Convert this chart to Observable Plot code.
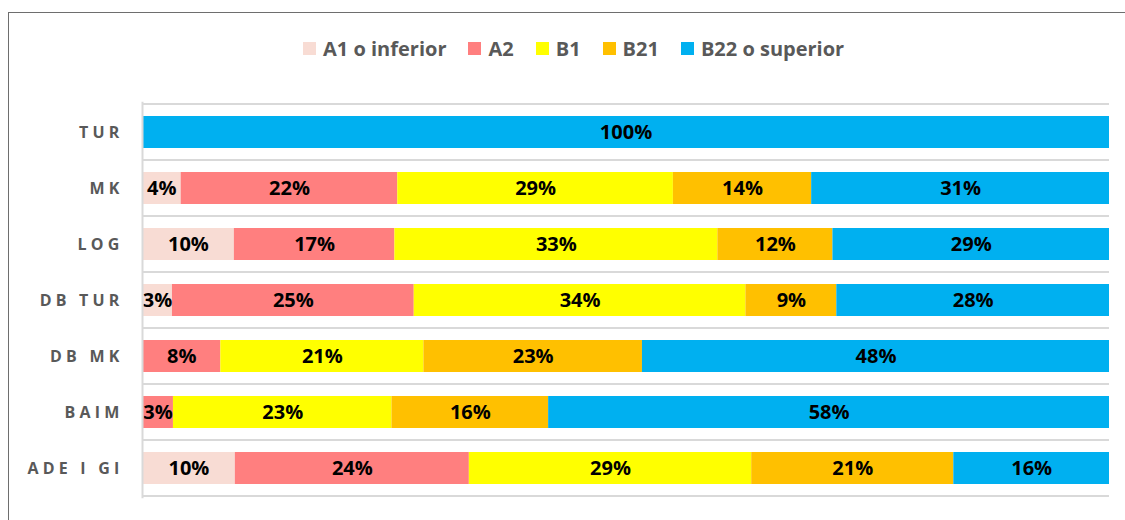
<!DOCTYPE html>
<html>
<head>
<meta charset="utf-8">
<script src="https://cdn.jsdelivr.net/npm/d3@7"></script>
<script src="https://cdn.jsdelivr.net/npm/@observablehq/plot@0.6"></script>
<style>
  html, body { margin: 0; padding: 0; background: #fff; width: 1125px; height: 520px; overflow: hidden; }
  #page { position: relative; width: 1125px; height: 520px; }
  #frame { position: absolute; left: 8px; top: 12px; width: 1200px; height: 600px;
           border-left: 1.5px solid #6e6e6e; border-top: 1.5px solid #6e6e6e; }
  #legend { position: absolute; left: 0; top: 0; width: 1125px; height: 80px;
            font-family: "Open Sans", sans-serif; font-weight: 700; font-size: 20px; color: #595959; }
  #legend .items { position: absolute; left: 303px; top: 35px; display: flex; align-items: center; white-space: nowrap; }
  #legend .item { display: flex; align-items: center; margin-right: 22px; }
  #legend .sw { width: 13px; height: 13px; margin-right: 7px; }
  #chart { position: absolute; left: 0; top: 80px; }
  #chart svg g[aria-label="y-axis tick label"] text { letter-spacing: 4.2px; }
</style>
</head>
<body>
<div id="page">
  <div id="frame"></div>
  <div id="legend"><div class="items"></div></div>
  <div id="chart"></div>
</div>
<script>
const categories = ["TUR", "MK", "LOG", "DB TUR", "DB MK", "BAIM", "ADE I GI"];
const levels = ["A1 o inferior", "A2", "B1", "B21", "B22 o superior"];
const colors = ["#F8DCD4", "#FF7F7F", "#FFFF00", "#FFC000", "#00B0F0"];
const a1  = [0,   4.0,  9.5,  3.1,  0,    0,    9.6];
const a2  = [0,   22.4, 16.6, 25.0, 8.1,  3.2,  24.2];
const b1  = [0,   28.5, 33.4, 34.3, 21.0, 22.6, 29.2];
const b21 = [0,   14.3, 11.9, 9.4,  22.6, 16.2, 20.9];
const b22 = [100, 30.8, 28.6, 28.2, 48.3, 58.0, 16.1];

const series = [a1, a2, b1, b21, b22];
const rows = [];
categories.forEach((cat, i) => {
  series.forEach((s, j) => {
    if (s[i] > 0) rows.push({cat, level: levels[j], value: s[i]});
  });
});

// legend
const items = document.querySelector("#legend .items");
levels.forEach((l, i) => {
  const it = document.createElement("div");
  it.className = "item";
  const sw = document.createElement("div");
  sw.className = "sw";
  sw.style.background = colors[i];
  const tx = document.createElement("span");
  tx.textContent = l;
  it.appendChild(sw); it.appendChild(tx);
  items.appendChild(it);
});

const W = 1125, H = 440;
const pInner = 0.435;

function bandLines(index, scales, values, dims) {
  const y = scales.y;
  const bw = typeof y.bandwidth === "function" ? y.bandwidth() : y.bandwidth;
  const st = typeof y.step === "function" ? y.step() : y.step;
  const g = document.createElementNS("http://www.w3.org/2000/svg", "g");
  const ys = categories.map(c => y(c) - (st - bw) / 2);
  ys.push(y(categories[categories.length - 1]) + bw + (st - bw) / 2);
  ys.forEach(v => {
    const l = document.createElementNS("http://www.w3.org/2000/svg", "line");
    l.setAttribute("x1", dims.marginLeft);
    l.setAttribute("x2", dims.width - dims.marginRight);
    l.setAttribute("y1", v);
    l.setAttribute("y2", v);
    l.setAttribute("stroke", "#d9d9d9");
    l.setAttribute("stroke-width", 2);
    g.appendChild(l);
  });
  return g;
}

const chart = Plot.plot({
  width: W,
  height: H,
  marginLeft: 142,
  marginRight: 16,
  marginTop: 21.7,
  marginBottom: 21.7,
  style: {fontFamily: "'Open Sans', sans-serif", background: "transparent"},
  x: {domain: [0, 100], axis: null},
  y: {domain: categories, paddingInner: pInner, paddingOuter: pInner / 2, label: null},
  color: {domain: levels, range: colors},
  marks: [
    bandLines,
    Plot.barX(rows, Plot.stackX({x: "value", y: "cat", z: "level", order: levels, fill: "level"})),
    Plot.text(rows, Plot.stackX({x: "value", y: "cat", z: "level", order: levels,
      text: d => Math.round(d.value) + "%", fill: "#000", fontSize: 20, fontWeight: 700})),
    Plot.ruleX([0], {stroke: "#d9d9d9", strokeWidth: 2}),
    Plot.axisY({tickSize: 0, tickPadding: 19, fontSize: 16, fontWeight: 700, fill: "#595959", label: null})
  ]
});
document.getElementById("chart").appendChild(chart);
</script>
</body>
</html>
